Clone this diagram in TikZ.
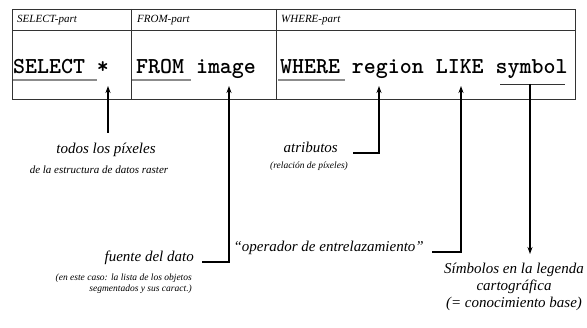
\documentclass[tikz,border=0pt]{standalone}
\usepackage{fontspec}
\newfontfamily\codefont{lmmonolt10-bold.otf}
\newfontfamily\notefont{Liberation Serif}
\usetikzlibrary{arrows.meta}

\tikzset{
  frame/.style={draw=black!80, line width=0.9pt},
  hdr/.style={font=\notefont\fontsize{11}{13}\selectfont\itshape, inner sep=0pt, anchor=west},
  code/.style={font=\codefont\fontsize{22.8}{24}\selectfont, inner sep=0pt, anchor=base west},
  keyline/.style={draw=black!45, line width=2.6pt},
  thinline/.style={draw=black!80, line width=0.9pt},
  arr/.style={draw=black, line width=1.1pt, -{Stealth[length=7pt,width=5pt]}},
  big/.style={font=\notefont\fontsize{15}{17}\selectfont\itshape, inner sep=0pt},
  small/.style={font=\notefont\fontsize{11}{12}\selectfont\itshape, inner sep=0pt},
  tiny/.style={font=\notefont\fontsize{9.5}{11}\selectfont\itshape, inner sep=0pt},
}

\begin{document}
\begin{tikzpicture}[x=1pt, y=-1pt]
\useasboundingbox (0,0) rectangle (587,328);

% table frame with header row and three parts
\draw[frame] (12,9) rectangle (575,99);
\draw[frame] (12,30) -- (575,30);
\draw[frame] (131,9) -- (131,99);
\draw[frame] (276,9) -- (276,99);

% header labels
\node[hdr] (hsel) at (17,20) {SELECT-part};
\node[hdr] (hfrom) at (137,20) {FROM-part};
\node[hdr] (hwhere) at (281,20) {WHERE-part};

% query text
\node[code] (qsel) at (13,74) {SELECT *};
\node[code] (qfrom) at (136,74) {FROM image};
\node[code] (qwhere) at (280,74) {WHERE region LIKE symbol};

% keyword underlines
\draw[keyline] (13,80) -- (97,80);
\draw[keyline] (132,80) -- (191,80);
\draw[keyline] (278,80) -- (345,80);
\draw[thinline] (500,84) -- (565,84);

% connector anchor points
\coordinate (pStar) at (108,86);
\coordinate (pImage) at (229,86);
\coordinate (pRegion) at (379,86);
\coordinate (pLike) at (461,86);
\coordinate (pSymbol) at (530,84);

% annotations
\node[big] (todos) at (106,150) {todos los píxeles};
\node[small] (todos2) at (99,170) {de la estructura de datos raster};

\node[big, anchor=east] (atrib) at (338,147) {atributos};
\node[tiny] (atrib2) at (309,166) {(relación de píxeles)};

\node[big, anchor=east] (fuente) at (194,258) {fuente del dato};
\node[tiny, anchor=east, align=right] (fuente2) at (192,284)
  {(en este caso: la lista de los objetos\\segmentados y sus caract.)};

\node[big, anchor=east] (oper) at (424,248) {“operador de entrelazamiento”};

\node[big, align=center, anchor=north] (simb) at (514,263)
  {Símbolos en la legenda\\cartográfica\\(= conocimiento base)};

% connectors
\coordinate (cTodos) at (108,133);
\draw[arr] (cTodos) -- (pStar);

\coordinate (cFuente) at (202,262);
\draw[arr] (cFuente) -| (pImage);

\coordinate (cAtrib) at (353,153);
\draw[arr] (cAtrib) -| (pRegion);

\coordinate (cOper) at (432,252);
\draw[arr] (cOper) -| (pLike);

\coordinate (cSimb) at (530,254);
\draw[arr] (pSymbol) -- (cSimb);
\end{tikzpicture}
\end{document}
